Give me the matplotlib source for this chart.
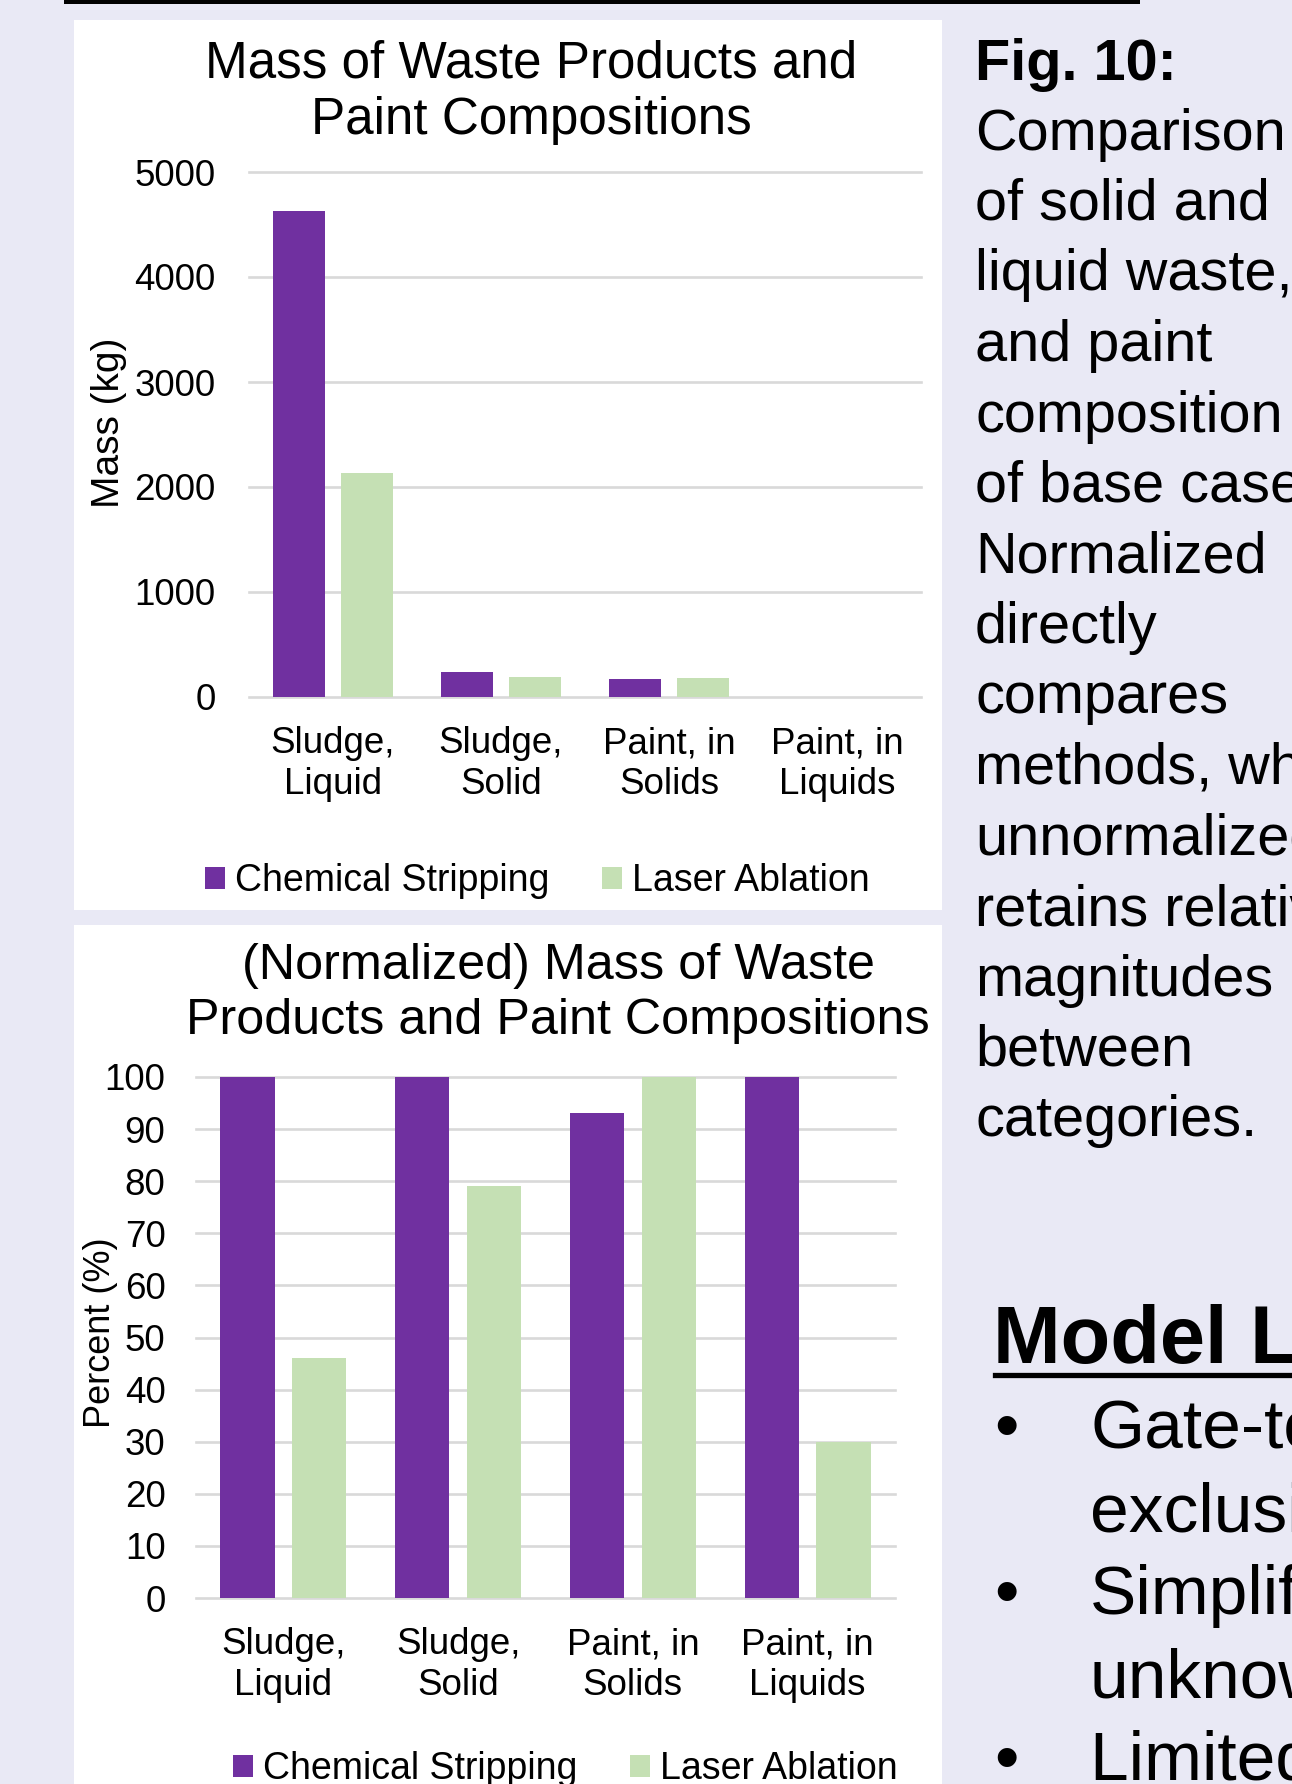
import matplotlib
matplotlib.use("Agg")
import matplotlib.pyplot as plt
from matplotlib.patches import Rectangle, Patch
from matplotlib.lines import Line2D
import numpy as np

# ---- data ----
categories = ["Sludge,\nLiquid", "Sludge,\nSolid", "Paint, in\nSolids", "Paint, in\nLiquids"]
series_names = ["Chemical Stripping", "Laser Ablation"]
mass_chemical = [4630, 238, 172, 3.0]
mass_laser = [2130, 188, 185, 0.9]
pct_chemical = [100, 100, 93, 100]
pct_laser = [46, 79, 100, 30]
mass_ticks = [0, 1000, 2000, 3000, 4000, 5000]
pct_ticks = [0, 10, 20, 30, 40, 50, 60, 70, 80, 90, 100]

caption_title = "Fig. 10:"
caption_lines = ["Comparison", "of solid and", "liquid waste,", "and paint",
                 "composition", "of base case.", "Normalized", "directly",
                 "compares", "methods, while", "unnormalized", "retains relative",
                 "magnitudes", "between", "categories."]
section_title = "Model Limitations"
bullet_lines = [("\u2022", "Gate-to-gate"), ("", "exclusions"),
                ("\u2022", "Simplified"), ("", "unknowns"),
                ("\u2022", "Limited data")]

# ---- style ----
PURPLE = "#7030A0"
GREEN = "#C5E0B4"
GRID = "#D9D9D9"
BG = "#E9E9F5"
plt.rcParams["font.family"] = ["Liberation Sans", "DejaVu Sans"]

W, H = 1292, 1784


def fx(px):
    return px / W


def fy(py):
    return 1 - py / H


fig = plt.figure(figsize=(W / 100, H / 100), dpi=100, facecolor=BG)

# white panels behind the two charts
fig.patches.append(Rectangle((fx(74), fy(910)), 868 / W, 890 / H,
                             transform=fig.transFigure, facecolor="white",
                             edgecolor="none", zorder=-5))
fig.patches.append(Rectangle((fx(74), 0), 868 / W, 859 / H,
                             transform=fig.transFigure, facecolor="white",
                             edgecolor="none", zorder=-5))
# black rule along the top
fig.patches.append(Rectangle((fx(64), fy(4)), (1140 - 64) / W, 4 / H,
                             transform=fig.transFigure, facecolor="black",
                             edgecolor="none", zorder=-4))


def bar_chart(ax, chem, laser, ticks, ymax, ylabel, ylabel_size, label_xy,
              ypad, legend_xy):
    x = np.arange(len(categories))
    ax.set_facecolor("none")
    for t in ticks:
        ax.axhline(t, color=GRID, lw=1.9, zorder=0, clip_on=False)
    ax.bar(x - 0.205, chem, width=0.31, color=PURPLE, zorder=2)
    ax.bar(x + 0.205, laser, width=0.31, color=GREEN, zorder=2)
    ax.set_xlim(-0.5, len(categories) - 0.5)
    ax.set_ylim(0, ymax)
    ax.set_yticks(ticks)
    ax.set_xticks(x)
    ax.set_xticklabels(categories, linespacing=1.22)
    for s in ax.spines.values():
        s.set_visible(False)
    ax.tick_params(axis="y", length=0, labelsize=26.5, pad=ypad)
    ax.tick_params(axis="x", length=0, labelsize=26.5, pad=21)
    ax.set_ylabel(ylabel, fontsize=ylabel_size)
    ax.yaxis.set_label_coords(*label_xy)
    handles = [Patch(facecolor=PURPLE), Patch(facecolor=GREEN)]
    ax.legend(handles, series_names, loc="center",
              bbox_to_anchor=legend_xy, bbox_transform=fig.transFigure,
              ncol=2, frameon=False, fontsize=27, handlelength=0.53,
              handleheight=0.53, handletextpad=0.27, columnspacing=1.4,
              borderpad=0, borderaxespad=0)


ax1 = fig.add_axes([fx(249), fy(697), (921 - 249) / W, (697 - 172) / H])
bar_chart(ax1, mass_chemical, mass_laser, mass_ticks, 5000, "Mass (kg)", 28,
          (-0.182, 0.522), 24, (fx(537), fy(881)))

ax2 = fig.add_axes([fx(196), fy(1598), (895 - 196) / W, (1598 - 1077) / H])
bar_chart(ax2, pct_chemical, pct_laser, pct_ticks, 100, "Percent (%)", 26,
          (-0.111, 0.509), 22, (fx(565), fy(1769)))

# chart titles
fig.text(fx(531), fy(77), "Mass of Waste Products and", fontsize=36.8,
         ha="center", va="baseline")
fig.text(fx(531), fy(134), "Paint Compositions", fontsize=36.8,
         ha="center", va="baseline")
fig.text(fx(558), fy(979), "(Normalized) Mass of Waste", fontsize=36.2,
         ha="center", va="baseline")
fig.text(fx(558), fy(1034), "Products and Paint Compositions", fontsize=36.2,
         ha="center", va="baseline")

# caption column
fig.text(fx(975), fy(80), caption_title, fontsize=41.5, weight="bold",
         va="baseline")
for i, line in enumerate(caption_lines):
    fig.text(fx(975), fy(149.5 + 70.5 * i), line, fontsize=41.5, va="baseline")

fig.text(fx(993), fy(1363), section_title, fontsize=58.5, weight="bold",
         va="baseline")
fig.add_artist(Line2D([fx(995), 1.0], [fy(1375), fy(1375)], color="black",
                      lw=3.8, transform=fig.transFigure))
for i, (mark, line) in enumerate(bullet_lines):
    yb = fy(1448 + 83 * i)
    if mark:
        fig.text(fx(994), yb, mark, fontsize=50, va="baseline")
    fig.text(fx(1090), yb, line, fontsize=50, va="baseline")

fig.savefig("out.png", dpi=100, facecolor=BG)
